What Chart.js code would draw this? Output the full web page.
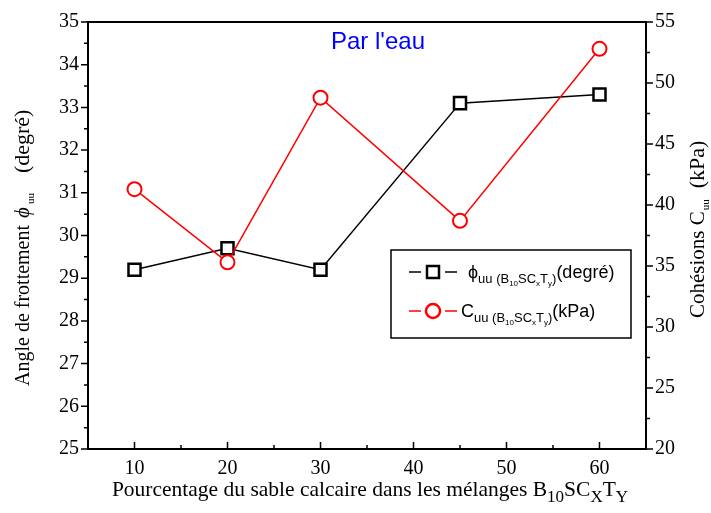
<!DOCTYPE html>
<html>
<head>
<meta charset="utf-8">
<script src="https://cdn.jsdelivr.net/npm/chart.js@4"></script>
<style>
  body { margin: 0; background: #fff; }
  #wrap { width: 711px; height: 513px; }
</style>
</head>
<body>
<div id="wrap"><canvas id="chart" width="711" height="513"></canvas></div>
<script>
/** PHI / COHESION VS SAND PERCENTAGE **/

// data
var sandPercent = [10, 20, 30, 45, 60];
var phiValues = [29.2, 29.7, 29.2, 33.1, 33.3];       // degrees, left axis
var cohesionValues = [41.3, 35.3, 48.8, 38.7, 52.8];  // kPa, right axis
var xTickLabels = [10, 20, 30, 40, 50, 60];

var SERIF = '"Liberation Serif", "Times New Roman", serif';
var SANS = '"Liberation Sans", Arial, sans-serif';

function toPoints(xs, ys) {
    return xs.map(function (x, i) { return { x: x, y: ys[i] }; });
}

// draw a row of text runs (for subscripts), starting at x, baseline y
function drawRuns(ctx, runs, x, y) {
    runs.forEach(function (r) {
        x += r.gap || 0;
        ctx.font = r.font;
        ctx.fillText(r.t, x, y + (r.dy || 0));
        x += ctx.measureText(r.t).width;
    });
    return x;
}
function runsWidth(ctx, runs) {
    var w = 0;
    runs.forEach(function (r) { ctx.font = r.font; w += ctx.measureText(r.t).width + (r.gap || 0); });
    return w;
}

var decorations = {
    id: 'decorations',
    afterDraw: function (chart) {
        var ctx = chart.ctx;
        var a = chart.chartArea;
        var sx = chart.scales.x, sy = chart.scales.y, sy1 = chart.scales.y1;
        ctx.save();

        // frame
        ctx.strokeStyle = '#000';
        ctx.lineWidth = 2;
        ctx.strokeRect(a.left, a.top, a.right - a.left, a.bottom - a.top);

        // ticks
        ctx.lineWidth = 1.5;
        ctx.beginPath();
        var v, p;
        for (v = 5; v <= 65; v += 5) {         // bottom, pointing in
            p = sx.getPixelForValue(v);
            ctx.moveTo(p, a.bottom);
            ctx.lineTo(p, a.bottom - (v % 10 === 0 ? 7 : 4));
        }
        for (v = 25; v <= 35; v += 0.5) {      // left, pointing out
            p = sy.getPixelForValue(v);
            ctx.moveTo(a.left, p);
            ctx.lineTo(a.left - (v % 1 === 0 ? 7 : 4), p);
        }
        for (v = 20; v <= 55; v += 2.5) {      // right, pointing out
            p = sy1.getPixelForValue(v);
            ctx.moveTo(a.right, p);
            ctx.lineTo(a.right + (v % 5 === 0 ? 7 : 4), p);
        }
        ctx.stroke();

        // "Par l'eau"
        ctx.fillStyle = '#0000ff';
        ctx.font = '24px ' + SANS;
        ctx.textAlign = 'center';
        ctx.textBaseline = 'alphabetic';
        ctx.fillText("Par l'eau", 378, 49);

        ctx.textAlign = 'left';
        ctx.fillStyle = '#000';

        // x title
        var f22 = '21.5px ' + SERIF, f17 = '17px ' + SERIF;
        var xt = [
            { t: 'Pourcentage du sable calcaire dans les mélanges B', font: f22 },
            { t: '10', font: f17, dy: 6 },
            { t: 'SC', font: f22 },
            { t: 'X', font: f17, dy: 6 },
            { t: 'T', font: f22 },
            { t: 'Y', font: f17, dy: 6 }
        ];
        drawRuns(ctx, xt, 370 - runsWidth(ctx, xt) / 2, 496);

        // left title (reads upward from y=386)
        var lt = [
            { t: 'Angle de frottement ', font: '20px ' + SERIF },
            { t: 'ϕ', font: 'italic 21px ' + SERIF, gap: 2 },
            { t: 'uu', font: '11px ' + SERIF, dy: 5, gap: 3 },
            { t: '(degré)', font: '22px ' + SERIF, gap: 20 }
        ];
        ctx.save();
        ctx.translate(29, 386);
        ctx.rotate(-Math.PI / 2);
        drawRuns(ctx, lt, 0, 0);
        ctx.restore();

        // right title (reads upward from y=318)
        var rt = [
            { t: 'Cohésions C', font: '21px ' + SERIF },
            { t: 'uu', font: '11px ' + SERIF, dy: 5, gap: 1 },
            { t: '(kPa)', font: '22px ' + SERIF, gap: 11 }
        ];
        ctx.save();
        ctx.translate(704, 318);
        ctx.rotate(-Math.PI / 2);
        drawRuns(ctx, rt, 0, 0);
        ctx.restore();

        // legend
        ctx.lineWidth = 1.5;
        ctx.strokeStyle = '#000';
        ctx.strokeRect(391, 250, 240, 88);

        function subRuns(head, tail) {
            return [
                { t: head, font: '18px ' + SANS },
                { t: 'uu (B', font: '13px ' + SANS, dy: 5 },
                { t: '10', font: '8px ' + SANS, dy: 8 },
                { t: 'SC', font: '13px ' + SANS, dy: 5 },
                { t: 'x', font: '8px ' + SANS, dy: 8 },
                { t: 'T', font: '13px ' + SANS, dy: 5 },
                { t: 'y', font: '8px ' + SANS, dy: 8 },
                { t: ')', font: '13px ' + SANS, dy: 5 },
                { t: tail, font: '18px ' + SANS }
            ];
        }
        var rows = [
            { color: '#000', y: 272, sym: 'rect', runs: subRuns('ϕ', '(degré)'), tx: 468 },
            { color: '#ff0000', y: 311, sym: 'circle', runs: subRuns('C', '(kPa)'), tx: 461 }
        ];
        rows.forEach(function (r) {
            ctx.strokeStyle = r.color;
            ctx.lineWidth = 1.5;
            ctx.beginPath();
            ctx.moveTo(409, r.y); ctx.lineTo(421, r.y);
            ctx.moveTo(445, r.y); ctx.lineTo(457, r.y);
            ctx.stroke();
            ctx.lineWidth = 2.5;
            ctx.fillStyle = '#fff';
            ctx.beginPath();
            if (r.sym === 'rect') ctx.rect(427, r.y - 6, 12, 12);
            else ctx.arc(433, r.y, 7, 0, Math.PI * 2);
            ctx.fill();
            ctx.stroke();
            ctx.fillStyle = '#000';
            drawRuns(ctx, r.runs, r.tx, r.y + 6);
        });

        ctx.restore();
    }
};

var ctx = document.getElementById('chart');

var chart = new Chart(ctx, {
    type: 'line',
    data: {
        datasets: [{
            label: 'phi',
            data: toPoints(sandPercent, phiValues),
            yAxisID: 'y',
            borderColor: '#000',
            borderWidth: 1.5,
            pointStyle: 'rect',
            pointRadius: 8.5,
            pointBorderWidth: 2.5,
            pointBackgroundColor: '#fff',
            pointBorderColor: '#000',
            order: 2
        }, {
            label: 'C',
            data: toPoints(sandPercent, cohesionValues),
            yAxisID: 'y1',
            borderColor: '#ff0000',
            borderWidth: 1.5,
            pointStyle: 'circle',
            pointRadius: 7,
            pointBorderWidth: 2,
            pointBackgroundColor: '#fff',
            pointBorderColor: '#ff0000',
            order: 1
        }]
    },
    options: {
        responsive: false,
        animation: false,
        layout: { padding: { top: 22, left: 0, right: 0, bottom: 0 } },
        plugins: {
            legend: { display: false },
            tooltip: { enabled: false }
        },
        scales: {
            x: {
                type: 'linear',
                position: 'bottom',
                min: 5,
                max: 65,
                afterBuildTicks: function (s) { s.ticks = xTickLabels.map(function (v) { return { value: v }; }); },
                afterFit: function (s) { s.height = 64; },
                grid: { display: false, drawTicks: false },
                border: { display: false },
                ticks: { color: '#000', padding: 8, maxRotation: 0, font: { family: SERIF, size: 20 } }
            },
            y: {
                position: 'left',
                min: 25,
                max: 35,
                afterFit: function (s) { s.width = 88; },
                grid: { display: false, drawTicks: false },
                border: { display: false },
                ticks: { stepSize: 1, color: '#000', padding: 9, font: { family: SERIF, size: 20 } }
            },
            y1: {
                position: 'right',
                min: 20,
                max: 55,
                afterFit: function (s) { s.width = 65; },
                grid: { display: false, drawTicks: false },
                border: { display: false },
                ticks: { stepSize: 5, color: '#000', padding: 9, font: { family: SERIF, size: 20 } }
            }
        }
    },
    plugins: [decorations]
});
</script>
</body>
</html>
